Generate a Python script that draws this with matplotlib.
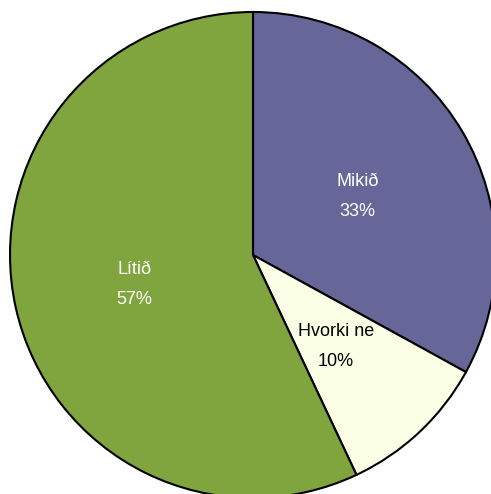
import matplotlib
matplotlib.use("Agg")
import matplotlib.pyplot as plt
import numpy as np

labels = ["Mikið", "Hvorki ne", "Lítið"]
values = [33, 10, 57]
pct_labels = ["33%", "10%", "57%"]
colors = ["#666699", "#FAFFE6", "#80A43E"]
text_colors = ["white", "black", "white"]

W, H = 491, 494
fig = plt.figure(figsize=(W / 100, H / 100), dpi=100)
ax = fig.add_axes([0, 0, 1, 1])
cx, cy, R = 253, H - 255, 243
wedges, _ = ax.pie(values, colors=colors, startangle=90, counterclock=False,
                   center=(cx, cy), radius=R,
                   wedgeprops=dict(edgecolor="black", linewidth=1.5))
ax.set_xlim(0, W)
ax.set_ylim(0, H)
ax.set_aspect("equal")
ax.axis("off")

for w, lab, pct, tc in zip(wedges, labels, pct_labels, text_colors):
    mid = np.deg2rad((w.theta1 + w.theta2) / 2)
    x = cx + 0.5 * R * np.cos(mid)
    y = cy + 0.5 * R * np.sin(mid) - 3
    ax.text(x, y + 15, lab, ha="center", va="center", color=tc,
            fontsize=13, family="Liberation Sans")
    ax.text(x, y - 15, pct, ha="center", va="center", color=tc,
            fontsize=13, family="Liberation Sans")

fig.savefig("out.png", dpi=100)
